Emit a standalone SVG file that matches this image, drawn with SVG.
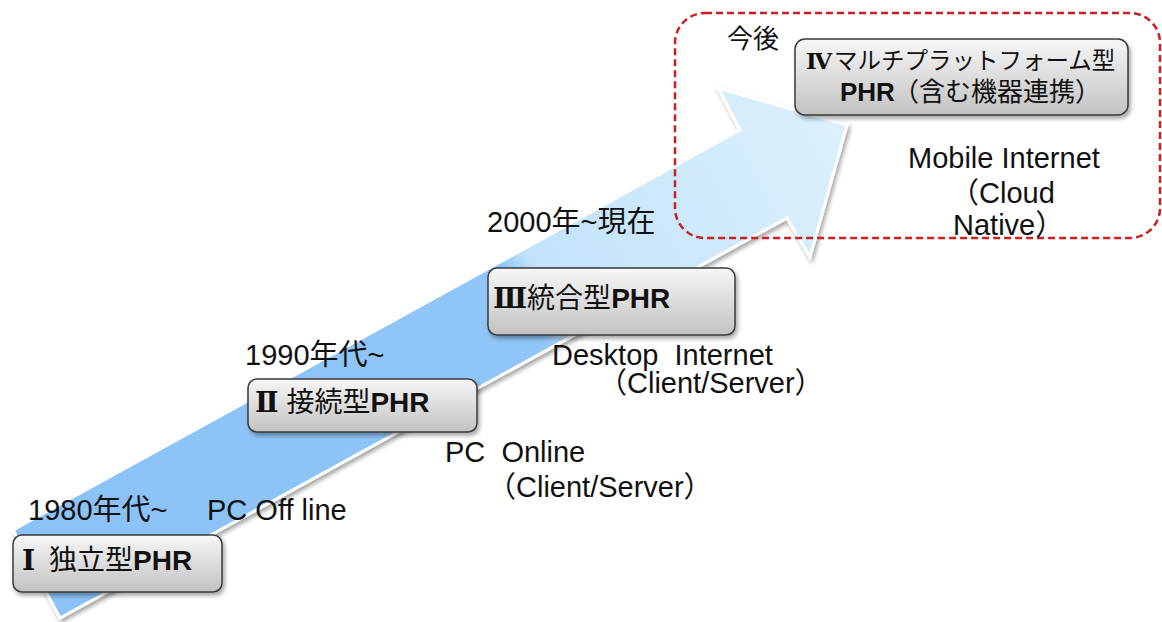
<svg xmlns="http://www.w3.org/2000/svg" width="1162" height="622" viewBox="0 0 1162 622">
<style>
text{font-family:"Liberation Sans","Noto Sans CJK JP",sans-serif;font-size:28px;fill:#111}
.lb{font-size:29px}
.b{font-weight:bold}
.rn{font-family:"DejaVu Serif","Liberation Serif",serif;font-weight:bold}
.box{fill:url(#boxg);stroke:#3a3a3a;stroke-width:1.5;filter:url(#sh)}
</style>
<defs>
<linearGradient id="boxg" x1="0" y1="0" x2="0" y2="1">
<stop offset="0" stop-color="#f7f7f7"/>
<stop offset="1" stop-color="#c2c2c2"/>
</linearGradient>
<linearGradient id="arrg" gradientUnits="userSpaceOnUse" x1="36" y1="574" x2="847" y2="125">
<stop offset="0" stop-color="#8bc2f7"/>
<stop offset="0.6" stop-color="#90c6f8"/>
<stop offset="0.63" stop-color="#c2e3fa"/>
<stop offset="1" stop-color="#dcf0fc"/>
</linearGradient>
<filter id="sh" x="-10%" y="-10%" width="130%" height="140%">
<feDropShadow dx="2" dy="3" stdDeviation="2" flood-color="#000" flood-opacity="0.35"/>
</filter>
</defs>
<g id="arrow">
<polygon points="13,530 740,130 718,88 847,125 810,257 787,218 60,618" fill="url(#arrg)" stroke="#ffffff" stroke-width="3" stroke-linejoin="miter" filter="url(#sh)"/>
</g>
<g id="future-frame">
<rect x="675" y="13" width="485" height="225" rx="30" fill="none" stroke="#cc1f1f" stroke-width="2.5" stroke-dasharray="7,4"/>
<text x="727" y="48" style="font-size:26px">今後</text>
</g>
<g id="node1">
<rect class="box" x="13" y="535" width="209" height="57" rx="9"/>
<text class="rn" x="22" y="570">Ⅰ</text>
<text x="49" y="570">独立型<tspan class="b">PHR</tspan></text>
</g>
<g id="node2">
<rect class="box" x="248" y="379" width="229" height="53" rx="9"/>
<text x="255" y="412"><tspan class="rn">Ⅱ</tspan> 接続型<tspan class="b">PHR</tspan></text>
</g>
<g id="node3">
<rect class="box" x="488" y="268" width="247" height="67" rx="9"/>
<text x="493" y="308"><tspan class="rn">Ⅲ</tspan>統合型<tspan class="b">PHR</tspan></text>
</g>
<g id="node4">
<rect class="box" x="795" y="39" width="333" height="76" rx="10"/>
<text class="rn" x="806" y="69" style="font-size:23px">Ⅳ</text>
<text x="834" y="69" style="font-size:23.5px">マルチプラットフォーム型</text>
<text class="b" x="840" y="101" style="font-size:26px">PHR</text>
<text x="893" y="101" style="font-size:26px">（含む機器連携）</text>
</g>
<g id="labels">
<text class="lb" x="28" y="520">1980年代~</text>
<text class="lb" x="207" y="520">PC Off line</text>
<text class="lb" x="245" y="365">1990年代~</text>
<text class="lb" x="445" y="462" xml:space="preserve">PC  Online</text>
<text class="lb" x="487" y="497">（Client/Server）</text>
<text class="lb" x="487" y="232">2000年~現在</text>
<text class="lb" x="552" y="365" xml:space="preserve">Desktop  Internet</text>
<text class="lb" x="598" y="393">（Client/Server）</text>
<text class="lb" x="908" y="168">Mobile Internet</text>
<text class="lb" x="950" y="203">（Cloud</text>
<text class="lb" x="953" y="235">Native）</text>
</g>
</svg>
